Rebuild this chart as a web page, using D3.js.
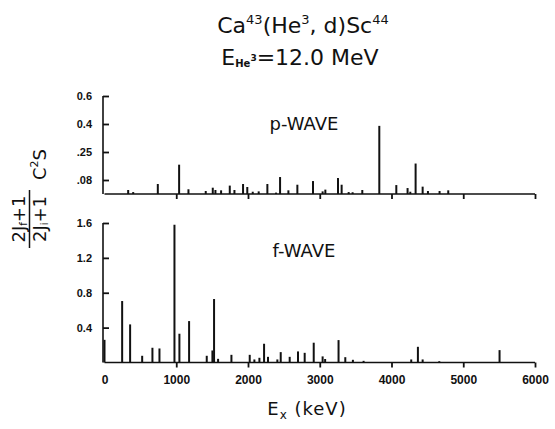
<!DOCTYPE html>
<html>
<head>
<meta charset="utf-8">
<script src="https://cdn.jsdelivr.net/npm/d3@7"></script>
<style>
  html, body { margin: 0; padding: 0; background: #fff; }
  svg { display: block; }
  .tick-label { font-family: "Liberation Sans", Arial, sans-serif; font-weight: bold; fill: #111; }
  .lbl { font-family: "DejaVu Sans", sans-serif; fill: #111; }
</style>
</head>
<body>
<svg id="chart" width="555" height="429"></svg>
<script>
// Excitation energies (keV) and spectroscopic strengths (2Jf+1)/(2Ji+1) C²S
const pWaveEnergy = [330, 400, 743, 1040, 1170, 1411, 1509, 1546, 1625, 1746, 1811, 1931, 1990,
  2066, 2149, 2270, 2391, 2447, 2563, 2688, 2906, 3040, 3078, 3254, 3305, 3403, 3458, 3593,
  3830, 4067, 4224, 4262, 4336, 4434, 4508, 4670, 4791];
const pWaveStrength = [0.023, 0.011, 0.057, 0.173, 0.027, 0.017, 0.036, 0.023, 0.021, 0.048, 0.023, 0.057, 0.040,
  0.013, 0.015, 0.057, 0.008, 0.098, 0.021, 0.053, 0.074, 0.015, 0.025, 0.092, 0.053, 0.011, 0.010, 0.023,
  0.39, 0.051, 0.034, 0.013, 0.18, 0.042, 0.017, 0.017, 0.021];

const fWaveEnergy = [0, 246, 357, 525, 668, 766, 975, 1044, 1179, 1425, 1504, 1527, 1583, 1769,
  2024, 2089, 2159, 2224, 2279, 2409, 2456, 2581, 2697, 2790, 2916, 3040, 3075, 3262, 3356,
  3462, 3611, 4275, 4368, 4434, 4666, 5506];
const fWaveStrength = [0.26, 0.705, 0.437, 0.077, 0.169, 0.161, 1.58, 0.33, 0.475, 0.077, 0.138, 0.728, 0.042, 0.088,
  0.088, 0.035, 0.054, 0.215, 0.065, 0.035, 0.119, 0.065, 0.127, 0.111, 0.227, 0.07, 0.04, 0.257, 0.061,
  0.031, 0.019, 0.035, 0.18, 0.035, 0.015, 0.142];

// Axis ticks
const xTicks = [0, 1000, 2000, 3000, 4000, 5000, 6000];
const pTicks = [0.08, 0.25, 0.4, 0.6];
const pTickLabels = [".08", ".25", "0.4", "0.6"];
const fTicks = [0.4, 0.8, 1.2, 1.6];
const fTickLabels = ["0.4", "0.8", "1.2", "1.6"];

const svg = d3.select("#chart");

const x = d3.scaleLinear().domain([0, 6000]).range([104.5, 535]);

// p-wave panel uses a stretched scale so the small strengths are legible
const yP = d3.scaleLinear().domain([0, 0.08, 0.25, 0.4, 0.6]).range([194, 180, 152, 124, 96]);
const yF = d3.scaleLinear().domain([0, 1.6]).range([362.5, 223]);

function panel(y, energies, strengths, ticks, tickLabels, name, nameY, showXLabels) {
  const g = svg.append("g");
  const base = y(0);

  // x axis: baseline with downward ticks
  const xAxis = d3.axisBottom(x).tickValues(xTicks).tickSize(5).tickFormat(d3.format("d"));
  const gx = g.append("g").attr("transform", `translate(0,${base})`).call(xAxis);
  gx.select(".domain").attr("stroke", "#111").attr("stroke-width", 1.6).attr("d", `M${x(0)},0H${x(6000)}`);
  gx.selectAll(".tick line").attr("stroke", "#111").attr("stroke-width", 1.8);
  gx.selectAll(".tick").filter(d => d === 0).select("line").remove();
  gx.selectAll(".tick text")
    .attr("class", "tick-label")
    .attr("font-size", 12)
    .attr("y", 18)
    .attr("dy", "0.32em")
    .style("visibility", showXLabels ? "visible" : "hidden");

  // y axis: ticks pointing inward
  const yAxis = d3.axisLeft(y).tickValues(ticks).tickSize(-6)
    .tickFormat((d, i) => tickLabels[i]);
  const gy = g.append("g").attr("transform", `translate(${x(0) - 1.5},0)`).call(yAxis);
  gy.select(".domain").attr("stroke", "#111").attr("stroke-width", 1.6)
    .attr("d", `M0,${y(ticks[ticks.length - 1])}V${base}`);
  gy.selectAll(".tick line").attr("stroke", "#111").attr("stroke-width", 1.8);
  gy.selectAll(".tick text").attr("class", "tick-label").attr("font-size", 11).attr("x", -11);

  // strength lines
  g.append("g").selectAll("line")
    .data(energies.map((e, i) => ({ e, s: strengths[i] })))
    .join("line")
    .attr("x1", d => x(d.e)).attr("x2", d => x(d.e))
    .attr("y1", base).attr("y2", d => y(d.s))
    .attr("stroke", "#111").attr("stroke-width", 2);

  g.append("text").attr("class", "lbl")
    .attr("x", 304).attr("y", nameY)
    .attr("text-anchor", "middle").attr("font-size", 18)
    .text(name);
}

panel(yP, pWaveEnergy, pWaveStrength, pTicks, pTickLabels, "p-WAVE", 130, false);
panel(yF, fWaveEnergy, fWaveStrength, fTicks, fTickLabels, "f-WAVE", 257, true);

// Title
const t1 = svg.append("text").attr("class", "lbl").attr("x", 303).attr("y", 33)
  .attr("text-anchor", "middle").attr("font-size", 22);
t1.append("tspan").text("Ca");
t1.append("tspan").attr("font-size", 13).attr("dy", -9).text("43");
t1.append("tspan").attr("dy", 9).text("(He");
t1.append("tspan").attr("font-size", 13).attr("dy", -9).text("3");
t1.append("tspan").attr("dy", 9).text(", d)Sc");
t1.append("tspan").attr("font-size", 13).attr("dy", -9).text("44");

const t2 = svg.append("text").attr("class", "lbl").attr("x", 300).attr("y", 65)
  .attr("text-anchor", "middle").attr("font-size", 22);
t2.append("tspan").text("E");
t2.append("tspan").attr("font-size", 10).attr("font-weight", "bold").attr("dy", 2).text("He");
t2.append("tspan").attr("font-size", 9).attr("font-weight", "bold").attr("dy", -6).text("3");
t2.append("tspan").attr("dy", 4).text("=12.0 MeV");

// x axis title
const xt = svg.append("text").attr("class", "lbl").attr("x", 307).attr("y", 415)
  .attr("text-anchor", "middle").attr("font-size", 18).attr("letter-spacing", 1);
xt.append("tspan").text("E");
xt.append("tspan").attr("font-size", 12).attr("dy", 4).text("x");
xt.append("tspan").attr("dy", -4).text(" (keV)");

// y axis title: (2Jf+1)/(2Ji+1) C²S, rotated
const yl = svg.append("g").attr("transform", "translate(46,219) rotate(-90)");
const num = yl.append("text").attr("class", "lbl").attr("x", 0).attr("y", -21)
  .attr("text-anchor", "middle").attr("font-size", 18);
num.append("tspan").text("2J");
num.append("tspan").attr("font-size", 10).attr("dy", 2).text("f");
num.append("tspan").attr("dy", -2).text("+1");
const den = yl.append("text").attr("class", "lbl").attr("x", 0).attr("y", 0)
  .attr("text-anchor", "middle").attr("font-size", 18);
den.append("tspan").text("2J");
den.append("tspan").attr("font-size", 10).attr("dy", 2).text("i");
den.append("tspan").attr("dy", -2).text("+1");
yl.append("line").attr("x1", -29).attr("x2", 29).attr("y1", -16.5).attr("y2", -16.5)
  .attr("stroke", "#111").attr("stroke-width", 1.5);
const cs = yl.append("text").attr("class", "lbl").attr("x", 39).attr("y", 0).attr("font-size", 18);
cs.append("tspan").text("C");
cs.append("tspan").attr("font-size", 11).attr("dy", -8).text("2");
cs.append("tspan").attr("dy", 8).text("S");
</script>
</body>
</html>
